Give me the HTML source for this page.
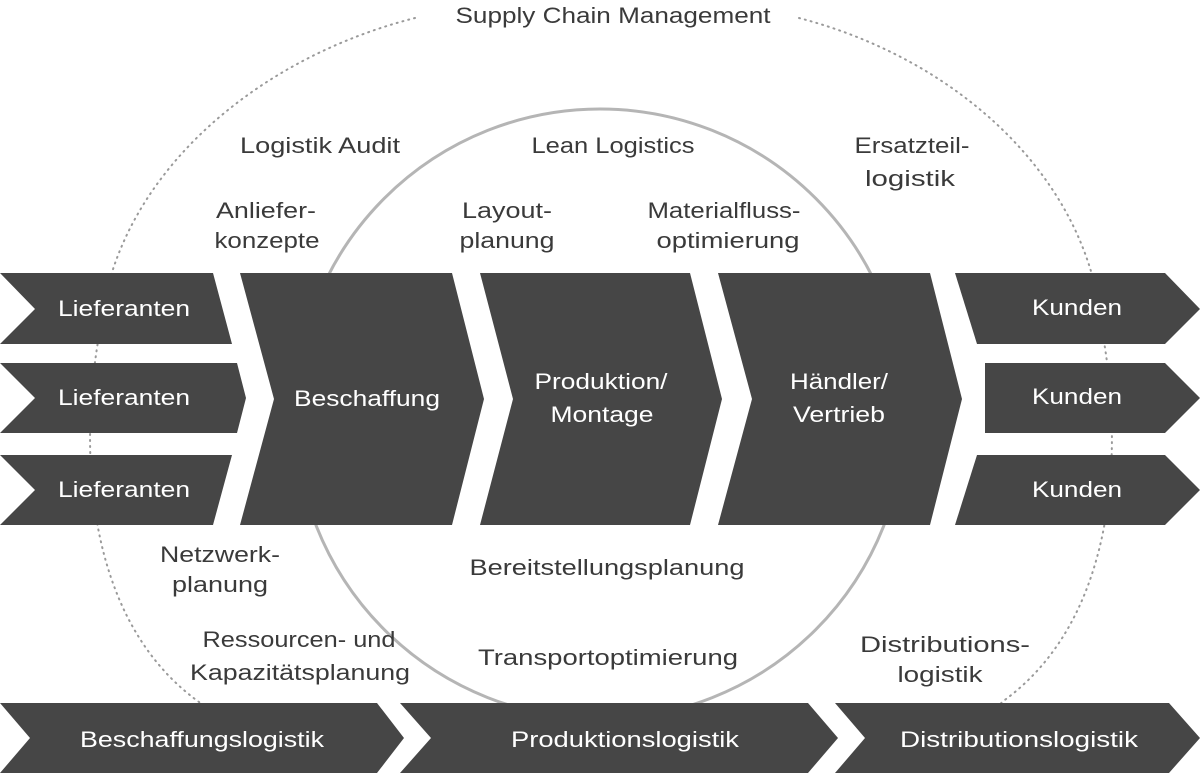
<!DOCTYPE html>
<html><head><meta charset="utf-8"><style>
html,body{margin:0;padding:0;background:#fff;}
svg{display:block;}
text{font-family:"Liberation Sans",sans-serif;font-size:22px;}
.d{fill:#3a3a3a;}
.w{fill:#fff;}
</style></head><body>
<svg width="1200" height="776" viewBox="0 0 1200 776" xmlns="http://www.w3.org/2000/svg">
<g fill="none" stroke="#9a9a9a" stroke-width="2" stroke-dasharray="1 5" stroke-linecap="round">
<path d="M415,18 C250,60 115,180 100,330 C78,450 85,620 199,702 L230,740"/>
<path d="M799,18 C960,60 1090,180 1102,330 C1124,450 1117,620 1002,702 L975,740"/>
</g>
<circle cx="600" cy="414" r="305" fill="none" stroke="#b5b5b5" stroke-width="3"/>
<g fill="#464646">
<polygon points="0,273 213,273 232,344 0,344 35,309"/>
<polygon points="0,363 237,363 246,398 237,433 0,433 35,398"/>
<polygon points="0,455 232,455 213,525 0,525 35,490"/>
<polygon points="240,273 452,273 484,399 452,525 240,525 274,399"/>
<polygon points="480,273 690,273 722,399 690,525 480,525 513,399"/>
<polygon points="718,273 930,273 962,399 930,525 718,525 752,399"/>
<polygon points="955,273 1165,273 1200,309 1165,344 977,344"/>
<polygon points="985,363 1165,363 1200,398 1165,433 985,433"/>
<polygon points="977,455 1165,455 1200,490 1165,525 955,525"/>
<polygon points="0,703 377,703 404,738 377,773 0,773 30,738"/>
<polygon points="400,703 808,703 838,738 808,773 400,773 431,738"/>
<polygon points="835,703 1169,703 1200,738 1169,773 835,773 865,738"/>
</g>
<g text-anchor="middle" lengthAdjust="spacingAndGlyphs">
<text class="d" x="613" y="23" textLength="315" lengthAdjust="spacingAndGlyphs">Supply Chain Management</text>
<text class="d" x="320" y="153" textLength="160" lengthAdjust="spacingAndGlyphs">Logistik Audit</text>
<text class="d" x="613" y="153" textLength="163" lengthAdjust="spacingAndGlyphs">Lean Logistics</text>
<text class="d" x="912" y="153" textLength="115" lengthAdjust="spacingAndGlyphs">Ersatzteil-</text>
<text class="d" x="910" y="186" textLength="90" lengthAdjust="spacingAndGlyphs">logistik</text>
<text class="d" x="266" y="218" textLength="100" lengthAdjust="spacingAndGlyphs">Anliefer-</text>
<text class="d" x="267" y="248" textLength="105" lengthAdjust="spacingAndGlyphs">konzepte</text>
<text class="d" x="507" y="218" textLength="90" lengthAdjust="spacingAndGlyphs">Layout-</text>
<text class="d" x="507" y="248" textLength="95" lengthAdjust="spacingAndGlyphs">planung</text>
<text class="d" x="724" y="218" textLength="153" lengthAdjust="spacingAndGlyphs">Materialfluss-</text>
<text class="d" x="728" y="248" textLength="143" lengthAdjust="spacingAndGlyphs">optimierung</text>
<text class="w" x="124" y="316" textLength="132" lengthAdjust="spacingAndGlyphs">Lieferanten</text>
<text class="w" x="124" y="405" textLength="132" lengthAdjust="spacingAndGlyphs">Lieferanten</text>
<text class="w" x="124" y="497" textLength="132" lengthAdjust="spacingAndGlyphs">Lieferanten</text>
<text class="w" x="367" y="406" textLength="146" lengthAdjust="spacingAndGlyphs">Beschaffung</text>
<text class="w" x="601" y="389" textLength="133" lengthAdjust="spacingAndGlyphs">Produktion/</text>
<text class="w" x="602" y="422" textLength="103" lengthAdjust="spacingAndGlyphs">Montage</text>
<text class="w" x="839" y="389" textLength="98" lengthAdjust="spacingAndGlyphs">Händler/</text>
<text class="w" x="839" y="422" textLength="92" lengthAdjust="spacingAndGlyphs">Vertrieb</text>
<text class="w" x="1077" y="315" textLength="90" lengthAdjust="spacingAndGlyphs">Kunden</text>
<text class="w" x="1077" y="404" textLength="90" lengthAdjust="spacingAndGlyphs">Kunden</text>
<text class="w" x="1077" y="497" textLength="90" lengthAdjust="spacingAndGlyphs">Kunden</text>
<text class="d" x="220" y="562" textLength="120" lengthAdjust="spacingAndGlyphs">Netzwerk-</text>
<text class="d" x="220" y="592" textLength="96" lengthAdjust="spacingAndGlyphs">planung</text>
<text class="d" x="607" y="575" textLength="275" lengthAdjust="spacingAndGlyphs">Bereitstellungsplanung</text>
<text class="d" x="299" y="647" textLength="193" lengthAdjust="spacingAndGlyphs">Ressourcen- und</text>
<text class="d" x="300" y="680" textLength="220" lengthAdjust="spacingAndGlyphs">Kapazitätsplanung</text>
<text class="d" x="608" y="665" textLength="260" lengthAdjust="spacingAndGlyphs">Transportoptimierung</text>
<text class="d" x="945" y="652" textLength="170" lengthAdjust="spacingAndGlyphs">Distributions-</text>
<text class="d" x="940" y="682" textLength="85" lengthAdjust="spacingAndGlyphs">logistik</text>
<text class="w" x="202" y="747" textLength="244" lengthAdjust="spacingAndGlyphs">Beschaffungslogistik</text>
<text class="w" x="625" y="747" textLength="228" lengthAdjust="spacingAndGlyphs">Produktionslogistik</text>
<text class="w" x="1019" y="747" textLength="238" lengthAdjust="spacingAndGlyphs">Distributionslogistik</text>
</g>
</svg>
</body></html>
